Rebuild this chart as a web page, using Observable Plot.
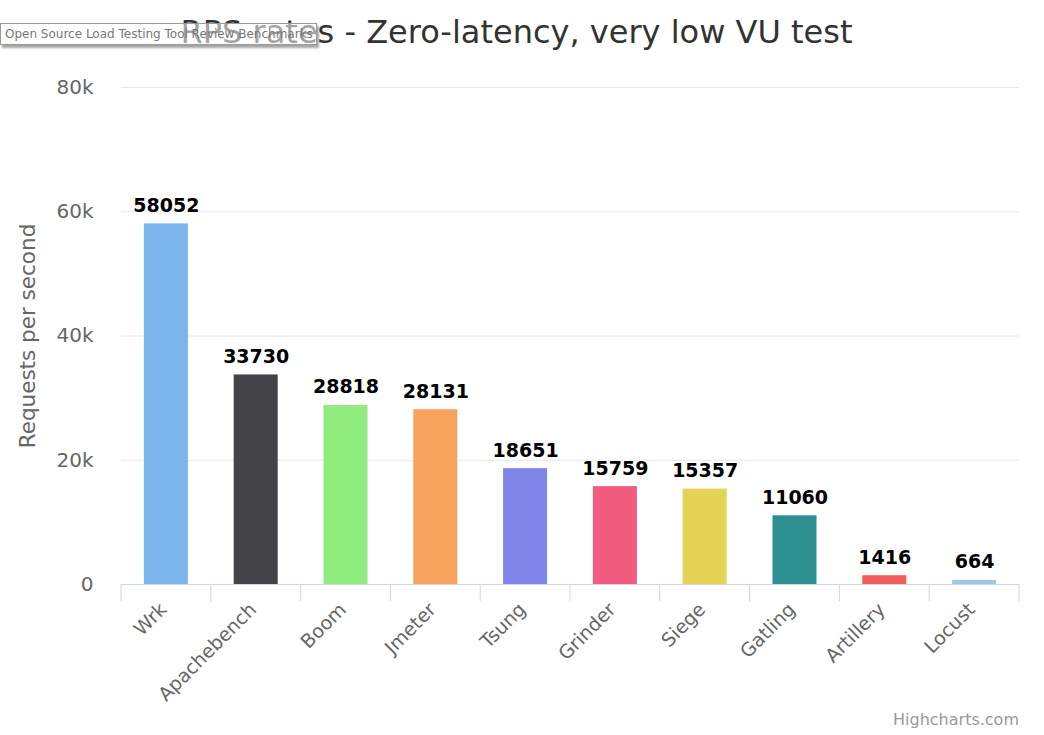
<!DOCTYPE html>
<html>
<head>
<meta charset="utf-8">
<script src="https://cdn.jsdelivr.net/npm/d3@7"></script>
<script src="https://cdn.jsdelivr.net/npm/@observablehq/plot@0.6"></script>
<style>
  html, body { margin: 0; padding: 0; background: #fff; }
  #wrap { position: relative; width: 1044px; height: 735px; overflow: hidden; font-family: "DejaVu Sans", sans-serif; }
  #title { height: 60px; width: 1044px; text-align: center; font-size: 32px; color: #333; line-height: 60px; padding-top: 2px; padding-right: 11px; box-sizing: border-box; }
  #tip { position: absolute; left: 0; top: 23px; width: 311px; height: 20px; border: 1px solid #999; background: rgba(255,255,255,0.55);
         box-shadow: 2px 3px 2px rgba(0,0,0,0.35); font-size: 12px; color: #777; line-height: 20px; padding-left: 4px; box-sizing: content-box; white-space: nowrap; }
  #credit { position: absolute; right: 25px; top: 710px; font-size: 16px; color: #999; }
</style>
</head>
<body>
<div id="wrap">
  <div id="title">RPS rates - Zero-latency, very low VU test</div>
  <div id="chart"></div>
  <div id="tip">Open Source Load Testing Tool Review Benchmarks</div>
  <div id="credit">Highcharts.com</div>
</div>
<script>
const categories = ["Wrk", "Apachebench", "Boom", "Jmeter", "Tsung", "Grinder", "Siege", "Gatling", "Artillery", "Locust"];
const rps = [58052, 33730, 28818, 28131, 18651, 15759, 15357, 11060, 1416, 664];
const colors = ["#7cb5ec", "#434348", "#90ed7d", "#f7a35c", "#8085e9", "#f15c80", "#e4d354", "#2b908f", "#f45b5b", "#a3c6e6"];
const yTicks = [0, 20000, 40000, 60000, 80000];
const yTitle = "Requests per second";

const data = categories.map((c, i) => ({ tool: c, value: rps[i], color: colors[i] }));

const innerPad = 0.51;

function boundaryTicks(index, scales, values, dimensions) {
  const x = scales.x, y = scales.y;
  const n = categories.length;
  const step = x(categories[1]) - x(categories[0]);
  const bw = typeof x.bandwidth === "function" ? x.bandwidth() : step * (1 - innerPad);
  const y0 = y(0);
  const g = d3.create("svg:g");
  for (let i = 0; i <= n; i++) {
    const bx = i < n ? x(categories[i]) + bw / 2 - step / 2 : x(categories[n - 1]) + bw / 2 + step / 2;
    g.append("line")
      .attr("x1", bx).attr("x2", bx)
      .attr("y1", y0).attr("y2", y0 + 17)
      .attr("stroke", "#ccd6eb").attr("stroke-width", 1);
  }
  return g.node();
}

const chart = Plot.plot({
  width: 1044,
  height: 675,
  marginLeft: 121,
  marginRight: 25,
  marginTop: 27,
  marginBottom: 151,
  style: { fontFamily: "DejaVu Sans, sans-serif", background: "#fff" },
  x: { domain: categories, paddingInner: innerPad, paddingOuter: innerPad / 2, round: false, axis: null },
  y: { domain: [0, 80000], axis: null },
  marks: [
    Plot.ruleY(yTicks.filter(d => d > 0), { stroke: "#e6e6e6", strokeWidth: 1 }),
    Plot.axisY({ ticks: yTicks, tickFormat: d => d === 0 ? "0" : (d / 1000) + "k", tickSize: 0, tickPadding: 28, fontSize: 20, fill: "#666", label: null }),
    Plot.barY(data, { x: "tool", y: "value", fill: "color" }),
    Plot.ruleY([0], { stroke: "#ccd6eb", strokeWidth: 1 }),
    boundaryTicks,
    Plot.text(data, { x: "tool", y: "value", text: d => String(d.value), dy: -12, lineAnchor: "bottom", fontSize: 19, fontWeight: "bold", fill: "#000", stroke: "#fff", strokeWidth: 2, paintOrder: "stroke" }),
    Plot.text(data, { x: "tool", y: () => 0, text: "tool", rotate: -45, textAnchor: "end", lineAnchor: "middle", dy: 22, dx: -3, fontSize: 19, fill: "#666" }),
    Plot.text([yTitle], { frameAnchor: "left", text: d => d, rotate: -90, textAnchor: "middle", dx: -93, fontSize: 21.5, fill: "#666" })
  ]
});
document.getElementById("chart").appendChild(chart);
</script>
</body>
</html>
